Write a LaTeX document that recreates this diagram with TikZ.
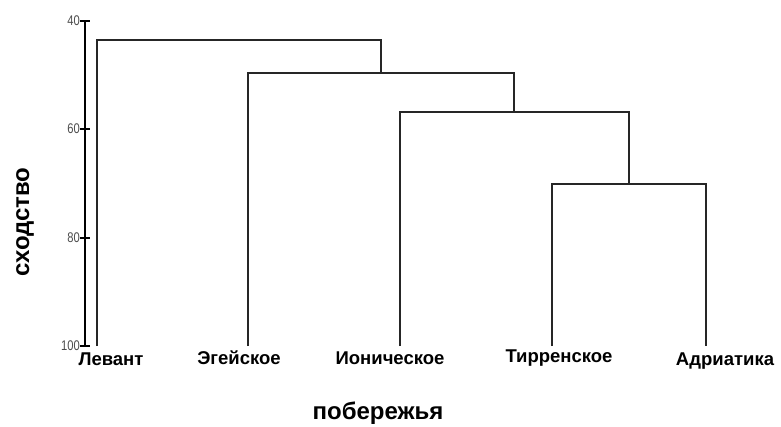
\documentclass[tikz,border=0pt]{standalone}
\usepackage{fontspec}
\setmainfont{Liberation Sans}
\begin{document}
\begin{tikzpicture}[x=1pt,y=-1pt,
  link/.style={draw=black!85,line width=1.3pt},
  axisline/.style={draw=black,line width=1.2pt},
  leaflabel/.style={font=\bfseries\fontsize{18.5}{18.5}\selectfont,inner sep=0pt,anchor=center},
  ticklabel/.style={font=\fontsize{14}{14}\selectfont,text=black!70,inner sep=0pt,anchor=east},
  axistitle/.style={font=\bfseries\fontsize{24}{24}\selectfont,inner sep=0pt}]
\useasboundingbox (0,0) rectangle (781,426);
% axis
\coordinate (ytop) at (85,21);
\coordinate (ybot) at (85,346);
\draw[axisline] (ytop) -- (ybot);
\foreach \v/\yy in {40/21,60/129,80/238,100/346}{
  \coordinate (t\v) at (85,\yy);
  \draw[axisline] ([xshift=-5pt]t\v) -- ([xshift=5pt]t\v);
  \node[ticklabel] (lab\v) at ([xshift=-5pt]t\v) {\scalebox{0.8}[1]{\v}};
}
% leaves
\coordinate (L1) at (97,346);
\coordinate (L2) at (248,346);
\coordinate (L3) at (400,346);
\coordinate (L4) at (552,346);
\coordinate (L5) at (706,346);
% merge points
\coordinate (m4) at (629,184);
\coordinate (m3) at (514,112);
\coordinate (m2) at (381,73);
\coordinate (m1) at (239,40);
\draw[link] (L4) |- (m4) -| (L5);
\draw[link] (L3) |- (m3) -| (m4);
\draw[link] (L2) |- (m2) -| (m3);
\draw[link] (L1) |- (m1) -| (m2);
% labels
\node[leaflabel] (n1) at (111,359) {Левант};
\node[leaflabel] (n2) at (239,358) {Эгейское};
\node[leaflabel] (n3) at (390,358) {Ионическое};
\node[leaflabel] (n4) at (559,358) {Тирренское};
\node[leaflabel] (n5) at (725,361) {Адриатика};
\node[axistitle] (xt) at (378,413) {побережья};
\node[axistitle,rotate=90] (yt) at (25,222) {сходство};
\end{tikzpicture}
\end{document}
